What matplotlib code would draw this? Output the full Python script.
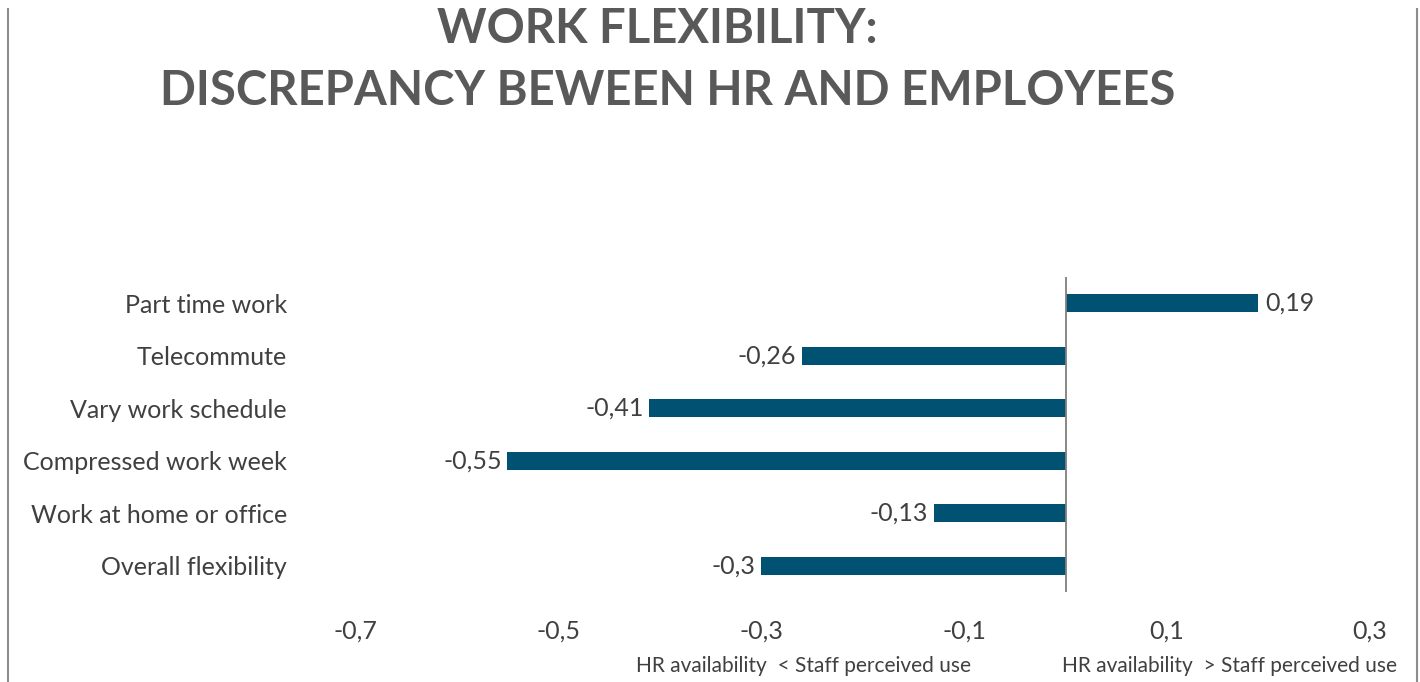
import matplotlib.pyplot as plt
from matplotlib.lines import Line2D

# ===================== data =====================
categories = [
    "Part time work",
    "Telecommute",
    "Vary work schedule",
    "Compressed work week",
    "Work at home or office",
    "Overall flexibility",
]
values = [0.19, -0.26, -0.41, -0.55, -0.13, -0.30]
value_labels = ["0,19", "-0,26", "-0,41", "-0,55", "-0,13", "-0,3"]
x_ticks = [-0.7, -0.5, -0.3, -0.1, 0.1, 0.3]
x_tick_labels = ["-0,7", "-0,5", "-0,3", "-0,1", "0,1", "0,3"]
title_lines = ["WORK FLEXIBILITY:", "DISCREPANCY BEWEEN HR AND EMPLOYEES"]
note_left = "HR availability  < Staff perceived use"
note_right = "HR availability  > Staff perceived use"

BAR_COLOR = "#005172"
TEXT_COLOR = "#404040"
TITLE_COLOR = "#595959"
plt.rcParams["font.family"] = ["Lato", "DejaVu Sans"]

# ===================== figure =====================
fig = plt.figure(figsize=(14.2, 6.82), dpi=100)
ax = fig.add_axes([0.25, 0.132, 0.7148, 0.4619])

ypos = list(range(len(categories)))
ax.barh(ypos, values, height=0.34, color=BAR_COLOR)
ax.set_ylim(len(categories) - 0.5, -0.5)
ax.set_xlim(-0.7, 0.3)

# zero line (category axis)
ax.axvline(0, color="#7f7f7f", linewidth=1.3)

for s in ax.spines.values():
    s.set_visible(False)

ax.set_yticks(ypos)
ax.set_yticklabels(categories, fontsize=18, color=TEXT_COLOR)
ax.set_xticks(x_ticks)
ax.set_xticklabels(x_tick_labels, fontsize=18, color=TEXT_COLOR)
ax.tick_params(axis="both", length=0)
ax.tick_params(axis="y", pad=49)
ax.tick_params(axis="x", pad=20)

# value labels
for y, v, t in zip(ypos, values, value_labels):
    if v >= 0:
        ax.annotate(t, (v, y), xytext=(5, 0), textcoords="offset points",
                    ha="left", va="center", fontsize=18, color=TEXT_COLOR)
    else:
        ax.annotate(t, (v, y), xytext=(-4, 0), textcoords="offset points",
                    ha="right", va="center", fontsize=18, color=TEXT_COLOR)

# title
fig.text(0.463, 0.958, title_lines[0], ha="center", va="center",
         fontsize=34, fontweight="bold", color=TITLE_COLOR)
fig.text(0.470, 0.866, title_lines[1], ha="center", va="center",
         fontsize=34, fontweight="bold", color=TITLE_COLOR)

# bottom notes
fig.text(804 / 1420, 1 - 666 / 682, note_left, ha="center", va="center",
         fontsize=15, color=TEXT_COLOR)
fig.text(1230 / 1420, 1 - 666 / 682, note_right, ha="center", va="center",
         fontsize=15, color=TEXT_COLOR)

# chart area border (left / right edges)
fig.add_artist(Line2D([8 / 1420, 8 / 1420], [0, 1 - 9 / 682],
                      transform=fig.transFigure, color="#8c8c8c", linewidth=1.5))
fig.add_artist(Line2D([1417 / 1420, 1417 / 1420], [0, 1 - 9 / 682],
                      transform=fig.transFigure, color="#8c8c8c", linewidth=1.5))

fig.savefig("out.png", dpi=100)
